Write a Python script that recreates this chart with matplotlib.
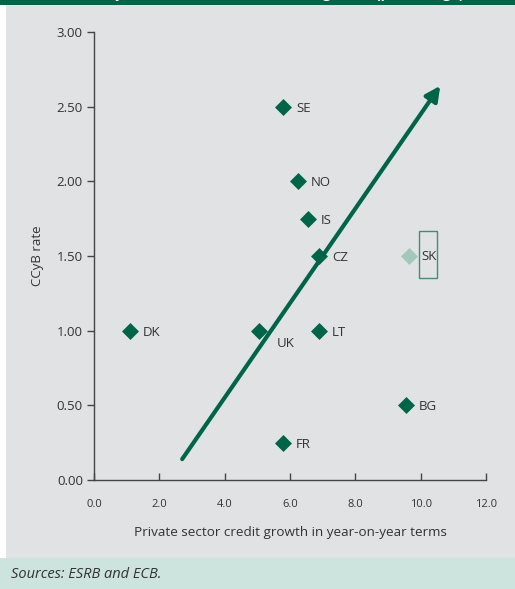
import matplotlib.pyplot as plt
from matplotlib.patches import Rectangle

plt.rcParams['font.family'] = ['Open Sans', 'DejaVu Sans']

# country data: credit growth (x) and CCyB rate (y)
countries = ['SE', 'NO', 'IS', 'CZ', 'DK', 'UK', 'LT', 'BG', 'FR']
growth = [5.8, 6.25, 6.55, 6.9, 1.1, 5.05, 6.9, 9.55, 5.8]
ccyb = [2.5, 2.0, 1.75, 1.5, 1.0, 1.0, 1.0, 0.5, 0.25]
sk_growth, sk_ccyb = 9.65, 1.5

# trend arrow start / end
arrow_x = [2.7, 10.6]
arrow_y = [0.14, 2.64]

xticks = [0, 2, 4, 6, 8, 10, 12]
yticks = [0, 0.5, 1.0, 1.5, 2.0, 2.5, 3.0]

green = '#006548'
light = '#a3c8b9'
grey_bg = '#e1e2e4'
txt = '#333333'

fig = plt.figure(figsize=(5.15, 5.89), dpi=100)
fig.patch.set_facecolor('white')
# background panels
fig.patches.append(Rectangle((6/515, 31/589), 1, 1, transform=fig.transFigure,
                             facecolor=grey_bg, edgecolor='none', zorder=-3))
fig.patches.append(Rectangle((0, 0), 1, 31/589, transform=fig.transFigure,
                             facecolor='#cde4de', edgecolor='none', zorder=-2))
fig.patches.append(Rectangle((0, 1 - 5/589), 1, 5/589, transform=fig.transFigure,
                             facecolor=green, edgecolor='none', zorder=-1))
# title is cut off at the top; only the descenders show
fig.text(0.5, 1 + 2/589, 'Countercyclical buffer rates and credit growth (percentage)',
         color='white', fontsize=10, fontweight='bold', ha='center', va='baseline')

ax = fig.add_axes([94/515, 109/589, 392/515, 448/589])
ax.set_facecolor('none')

ax.scatter(growth, ccyb, marker='D', s=75, color=green, zorder=3, linewidths=0)
ax.scatter([sk_growth], [sk_ccyb], marker='D', s=75, color=light, zorder=3, linewidths=0)

for c, gx, gy in zip(countries, growth, ccyb):
    if c == 'UK':
        ax.annotate(c, (gx, gy), xytext=(13, -9), textcoords='offset points',
                    fontsize=9.5, color=txt, va='center', ha='left')
    else:
        ax.annotate(c, (gx, gy), xytext=(9, -1), textcoords='offset points',
                    fontsize=9.5, color=txt, va='center', ha='left')
ax.text(10.25, sk_ccyb, 'SK', fontsize=9.5, color=txt, va='center', ha='center')
ax.add_patch(Rectangle((9.95, 1.35), 0.55, 0.32, facecolor='none',
                       edgecolor='#3f8f72', lw=1.0, zorder=2))

ax.annotate('', xy=(arrow_x[1], arrow_y[1]), xytext=(arrow_x[0], arrow_y[0]),
            arrowprops=dict(arrowstyle='-|>', color=green, lw=3,
                            mutation_scale=22, capstyle='round',
                            shrinkA=0, shrinkB=0), zorder=4)

ax.set_xlim(0, 12)
ax.set_ylim(0, 3)
ax.set_xticks(xticks)
ax.set_xticklabels([f'{v:.1f}' for v in xticks], fontsize=8, color=txt)
ax.set_yticks(yticks)
ax.set_yticklabels([f'{v:.2f}' for v in yticks], fontsize=9.5, color=txt)
ax.tick_params(axis='x', direction='in', length=5, width=1, color='#444444', pad=14)
ax.tick_params(axis='y', direction='out', length=5, width=1, color='#444444', pad=3)
for s in ['top', 'right']:
    ax.spines[s].set_visible(False)
for s in ['left', 'bottom']:
    ax.spines[s].set_color('#444444')
    ax.spines[s].set_linewidth(1)

ax.set_xlabel('Private sector credit growth in year-on-year terms', fontsize=9.7,
              color=txt, labelpad=11)
ax.set_ylabel('CCyB rate', fontsize=9.5, color=txt, labelpad=9)

fig.text(11/515, 15/589, 'Sources: ESRB and ECB.', fontsize=10.5, style='italic',
         color=txt, va='center', ha='left')

fig.savefig('out.png', dpi=100)
